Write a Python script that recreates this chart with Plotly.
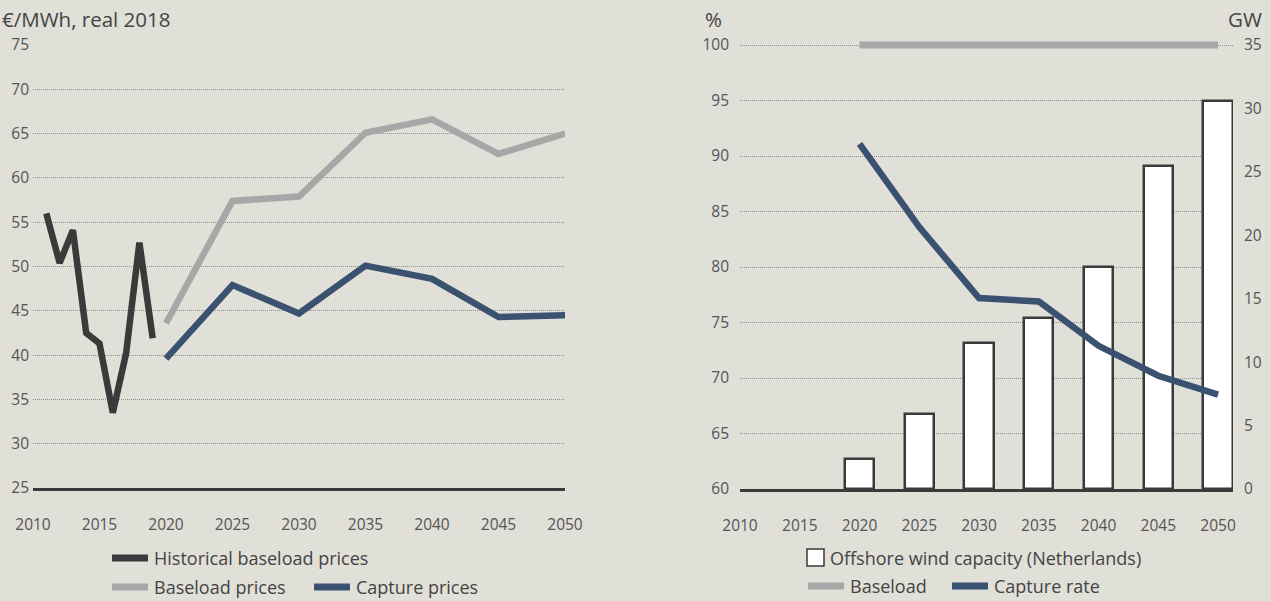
import plotly.graph_objects as go

# Left panel: prices, EUR/MWh real 2018
hist_years = [2011, 2012, 2013, 2014, 2015, 2016, 2017, 2018, 2019]
hist_baseload = [56.0, 50.4, 54.1, 42.5, 41.3, 33.5, 40.2, 52.7, 41.9]

proj_years = [2020, 2025, 2030, 2035, 2040, 2045, 2050]
baseload_prices = [43.6, 57.4, 57.9, 65.1, 66.6, 62.7, 65.0]
capture_prices = [39.6, 47.9, 44.7, 50.1, 48.6, 44.3, 44.5]

# Right panel: capture rate (%) and offshore wind capacity (GW)
baseload_rate = [100, 100, 100, 100, 100, 100, 100]
capture_rate = [91.1, 83.6, 77.2, 76.9, 72.9, 70.2, 68.5]
wind_capacity = [2.4, 5.9, 11.5, 13.5, 17.5, 25.5, 30.6]

x_ticks = [2010, 2015, 2020, 2025, 2030, 2035, 2040, 2045, 2050]

BG = "#e0dfd8"
DARK = "#3a3a3a"
GREY = "#a6a8a8"
BLUE = "#3a5170"
TXT = "#555555"
GRID = "#8e8e8a"
FONT = "Open Sans"

W, H = 1271, 601


def px(x):
    return x / W


def py(y):
    return 1 - y / H


fig = go.Figure()

# left chart lines
fig.add_trace(go.Scatter(x=hist_years, y=hist_baseload, mode="lines",
                         line=dict(color=DARK, width=6.5), xaxis="x", yaxis="y"))
fig.add_trace(go.Scatter(x=proj_years, y=baseload_prices, mode="lines",
                         line=dict(color=GREY, width=6.5), xaxis="x", yaxis="y"))
fig.add_trace(go.Scatter(x=proj_years, y=capture_prices, mode="lines",
                         line=dict(color=BLUE, width=6.5), xaxis="x", yaxis="y"))

# right chart: bars on base axis (GW), lines on overlay (%)
fig.add_trace(go.Bar(x=proj_years, y=wind_capacity, width=2.45,
                     marker=dict(color="white", line=dict(color=DARK, width=2.5)),
                     xaxis="x2", yaxis="y2"))
fig.add_trace(go.Scatter(x=proj_years, y=baseload_rate, mode="lines",
                         line=dict(color=GREY, width=7), xaxis="x2", yaxis="y3"))
fig.add_trace(go.Scatter(x=proj_years, y=capture_rate, mode="lines",
                         line=dict(color=BLUE, width=6.5), xaxis="x2", yaxis="y3"))

tickfont = dict(family=FONT, size=15.5, color=TXT)

# right chart y: 60..100 at px 489..45, extend top by 1 unit so the 100 line isn't clipped
unit = (489 - 45) / 40
top_r = 45 - unit * 1

fig.update_layout(
    width=W, height=H,
    paper_bgcolor=BG, plot_bgcolor=BG,
    margin=dict(l=0, r=0, t=0, b=0, autoexpand=False),
    showlegend=False,
    font=dict(family=FONT, color=TXT),
    xaxis=dict(domain=[px(33), px(565)], range=[2010, 2050], tickvals=x_ticks,
               showgrid=False, zeroline=False, showline=True, linecolor=DARK,
               linewidth=3, ticks="", tickfont=tickfont, ticklabelstandoff=20,
               automargin=False),
    yaxis=dict(domain=[py(488), py(45)], range=[25, 75], dtick=5,
               showgrid=True, gridcolor=GRID, griddash="1px,1px", gridwidth=1,
               zeroline=False, ticks="", tickfont=tickfont, ticklabelstandoff=3,
               automargin=False),
    xaxis2=dict(domain=[px(740), px(1233)], range=[2010, 2051.25], tickvals=x_ticks,
                anchor="y2", showgrid=False, zeroline=False, showline=True,
                linecolor=DARK, linewidth=3, ticks="", tickfont=tickfont,
                ticklabelstandoff=20, automargin=False),
    yaxis2=dict(domain=[py(489), py(top_r)], range=[0, 35 * 41 / 40],
                tickvals=[0, 5, 10, 15, 20, 25, 30, 35], anchor="x2", side="right",
                showgrid=False, zeroline=False, ticks="", tickfont=tickfont,
                ticklabelstandoff=10, automargin=False),
    yaxis3=dict(range=[60, 101], tickvals=[60, 65, 70, 75, 80, 85, 90, 95, 100],
                overlaying="y2", side="left", anchor="x2",
                showgrid=True, gridcolor=GRID, griddash="1px,1px", gridwidth=1,
                zeroline=False, ticks="", tickfont=tickfont, ticklabelstandoff=10,
                automargin=False),
    bargap=0,
)

# axis titles
titlefont = dict(family=FONT, size=20.5, color="#444")
fig.add_annotation(x=0, y=py(19), xref="paper", yref="paper", xanchor="left",
                   yanchor="middle", text="€/MWh, real 2018", showarrow=False,
                   font=titlefont)
fig.add_annotation(x=px(703), y=py(19), xref="paper", yref="paper", xanchor="left",
                   yanchor="middle", text="%", showarrow=False, font=titlefont)
fig.add_annotation(x=px(1264), y=py(19), xref="paper", yref="paper", xanchor="right",
                   yanchor="middle", text="GW", showarrow=False, font=titlefont)

# legends
legfont = dict(family=FONT, size=18, color="#444")


def leg_line(x0, x1, y, color):
    fig.add_shape(type="line", xref="paper", yref="paper", x0=px(x0), x1=px(x1),
                  y0=py(y), y1=py(y), line=dict(color=color, width=7))


def leg_text(x, y, text):
    fig.add_annotation(x=px(x), y=py(y), xref="paper", yref="paper", xanchor="left",
                       yanchor="middle", text=text, showarrow=False, font=legfont)


leg_line(112, 148, 558, DARK)
leg_text(152, 558, "Historical baseload prices")
leg_line(112, 148, 587, GREY)
leg_text(152, 587, "Baseload prices")
leg_line(314, 350, 587, BLUE)
leg_text(354, 587, "Capture prices")

fig.add_shape(type="rect", xref="paper", yref="paper", x0=px(807), x1=px(824),
              y0=py(566), y1=py(549), fillcolor="white", line=dict(color=DARK, width=1.5))
leg_text(828, 558, "Offshore wind capacity (Netherlands)")
leg_line(808, 844, 586, GREY)
leg_text(848, 586, "Baseload")
leg_line(952, 988, 586, BLUE)
leg_text(992, 586, "Capture rate")

# page body has a default 8px margin; drop it so the figure fills the window
fig.write_html("out.html", config={"displayModeBar": False},
               post_script="document.body.style.margin='0';document.body.style.overflow='hidden';")
